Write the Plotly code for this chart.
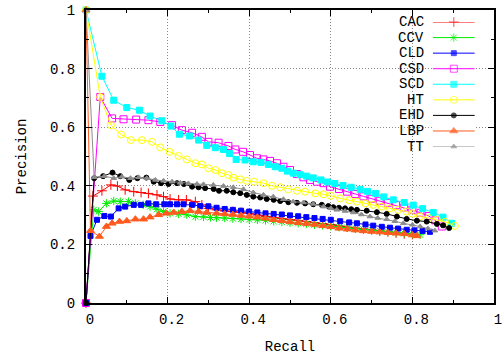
import plotly.graph_objects as go

# ---------------- data ----------------
names = ["CAC", "CCV", "CLD", "CSD", "SCD", "HT", "EHD", "LBP", "TT"]

cac_recall = [0, 0.017, 0.039, 0.061, 0.077, 0.096, 0.117, 0.135, 0.153, 0.174, 0.19, 0.206, 0.227, 0.246,
              0.268, 0.284, 0.3, 0.32, 0.34, 0.36, 0.38, 0.40, 0.42, 0.44, 0.46, 0.48, 0.50, 0.52, 0.54,
              0.56, 0.58, 0.60, 0.62, 0.64, 0.66, 0.68, 0.70, 0.72, 0.74, 0.76, 0.78, 0.80]
cac_precision = [0, 0.365, 0.383, 0.403, 0.399, 0.386, 0.38, 0.377, 0.374, 0.369, 0.363, 0.355, 0.352, 0.352,
                 0.346, 0.335, 0.323, 0.318, 0.314, 0.312, 0.309, 0.305, 0.30, 0.295, 0.291, 0.288, 0.285,
                 0.282, 0.278, 0.274, 0.271, 0.268, 0.263, 0.259, 0.256, 0.253, 0.25, 0.246, 0.243, 0.239,
                 0.236, 0.234]

ccv_recall = [0, 0.019, 0.031, 0.05, 0.068, 0.084, 0.104, 0.121, 0.14, 0.157, 0.174, 0.19, 0.206, 0.227,
              0.247, 0.268, 0.288, 0.305, 0.32, 0.34, 0.36, 0.38, 0.40, 0.42, 0.44, 0.46, 0.48, 0.50, 0.52,
              0.54, 0.56, 0.58, 0.60, 0.62, 0.64, 0.66, 0.68, 0.70, 0.72, 0.74, 0.76, 0.78, 0.80, 0.819]
ccv_precision = [0, 0.318, 0.312, 0.34, 0.348, 0.346, 0.346, 0.34, 0.335, 0.329, 0.32, 0.312, 0.306, 0.304,
                 0.301, 0.295, 0.294, 0.292, 0.291, 0.29, 0.288, 0.287, 0.285, 0.284, 0.282, 0.279, 0.277,
                 0.274, 0.272, 0.27, 0.267, 0.265, 0.262, 0.259, 0.257, 0.254, 0.251, 0.249, 0.246, 0.244,
                 0.241, 0.238, 0.235, 0.233]

cld_recall = [0, 0.011, 0.027, 0.045, 0.061, 0.08, 0.096, 0.117, 0.135, 0.153, 0.172, 0.192, 0.206, 0.223,
              0.239, 0.26, 0.28, 0.30, 0.32, 0.34, 0.36, 0.38, 0.40, 0.42, 0.44, 0.46, 0.48, 0.50, 0.52,
              0.54, 0.56, 0.58, 0.60, 0.623, 0.645, 0.664, 0.685, 0.704, 0.725, 0.745, 0.765, 0.786,
              0.805, 0.825, 0.843]
cld_precision = [0, 0.229, 0.284, 0.297, 0.295, 0.323, 0.329, 0.335, 0.335, 0.34, 0.337, 0.337, 0.337, 0.337,
                 0.337, 0.335, 0.331, 0.33, 0.325, 0.321, 0.318, 0.315, 0.312, 0.309, 0.306, 0.304, 0.302,
                 0.299, 0.296, 0.293, 0.29, 0.287, 0.284, 0.279, 0.275, 0.272, 0.268, 0.264, 0.26, 0.257,
                 0.254, 0.25, 0.248, 0.246, 0.243]

csd_recall = [0, 0.035, 0.064, 0.092, 0.123, 0.153, 0.182, 0.211, 0.235, 0.26, 0.284, 0.30, 0.325, 0.349,
              0.366, 0.385, 0.402, 0.419, 0.435, 0.451, 0.468, 0.484, 0.50, 0.517, 0.533, 0.549, 0.566,
              0.582, 0.598, 0.62, 0.64, 0.66, 0.68, 0.70, 0.72, 0.74, 0.76, 0.78, 0.80, 0.82, 0.84,
              0.856, 0.872]
csd_precision = [0, 0.703, 0.63, 0.627, 0.626, 0.624, 0.618, 0.607, 0.59, 0.581, 0.567, 0.55, 0.547, 0.536,
                 0.524, 0.516, 0.505, 0.494, 0.49, 0.485, 0.477, 0.465, 0.454, 0.44, 0.429, 0.42, 0.414,
                 0.409, 0.397, 0.389, 0.38, 0.372, 0.364, 0.356, 0.349, 0.342, 0.334, 0.326, 0.318, 0.308,
                 0.297, 0.282, 0.261]

scd_recall = [0, 0.039, 0.068, 0.10, 0.131, 0.157, 0.186, 0.208, 0.229, 0.254, 0.276, 0.296, 0.317, 0.337,
              0.352, 0.368, 0.39, 0.41, 0.429, 0.447, 0.464, 0.48, 0.494, 0.508, 0.525, 0.541, 0.557,
              0.576, 0.592, 0.61, 0.63, 0.65, 0.672, 0.69, 0.71, 0.73, 0.753, 0.78, 0.802, 0.825, 0.851,
              0.875, 0.896]
scd_precision = [1, 0.774, 0.692, 0.667, 0.658, 0.638, 0.622, 0.604, 0.576, 0.57, 0.556, 0.538, 0.53, 0.524,
                 0.51, 0.49, 0.488, 0.482, 0.48, 0.473, 0.465, 0.46, 0.45, 0.443, 0.438, 0.433, 0.427, 0.42,
                 0.413, 0.408, 0.401, 0.395, 0.388, 0.381, 0.374, 0.362, 0.352, 0.343, 0.334, 0.322, 0.309,
                 0.293, 0.272]

ht_recall = [0, 0.035, 0.061, 0.086, 0.11, 0.137, 0.162, 0.182, 0.205, 0.227, 0.247, 0.268, 0.284, 0.30,
             0.317, 0.333, 0.349, 0.361, 0.378, 0.394, 0.412, 0.435, 0.456, 0.476, 0.496, 0.517, 0.537,
             0.562, 0.582, 0.60, 0.623, 0.645, 0.664, 0.685, 0.704, 0.725, 0.745, 0.765, 0.786, 0.80,
             0.819, 0.84, 0.86, 0.88, 0.904]
ht_precision = [1, 0.703, 0.607, 0.575, 0.556, 0.556, 0.55, 0.531, 0.516, 0.502, 0.49, 0.477, 0.473, 0.46,
                0.454, 0.443, 0.437, 0.428, 0.422, 0.417, 0.414, 0.409, 0.40, 0.395, 0.388, 0.383, 0.38,
                0.374, 0.371, 0.366, 0.357, 0.351, 0.346, 0.34, 0.335, 0.329, 0.323, 0.318, 0.312, 0.305,
                0.295, 0.29, 0.284, 0.277, 0.263]

ehd_recall = [0, 0.02, 0.042, 0.065, 0.084, 0.106, 0.126, 0.148, 0.166, 0.184, 0.202, 0.223, 0.24, 0.26,
              0.276, 0.292, 0.313, 0.326, 0.345, 0.361, 0.378, 0.394, 0.41, 0.427, 0.443, 0.46, 0.476,
              0.496, 0.517, 0.537, 0.557, 0.578, 0.594, 0.606, 0.62, 0.635, 0.65, 0.664, 0.688, 0.713,
              0.737, 0.762, 0.786, 0.811, 0.835, 0.86, 0.875, 0.89]
ehd_precision = [0, 0.426, 0.433, 0.445, 0.433, 0.42, 0.426, 0.428, 0.414, 0.409, 0.406, 0.409, 0.406,
                 0.397, 0.395, 0.392, 0.389, 0.383, 0.383, 0.378, 0.375, 0.369, 0.363, 0.36, 0.355, 0.352,
                 0.348, 0.344, 0.342, 0.34, 0.337, 0.335, 0.331, 0.327, 0.325, 0.323, 0.32, 0.318, 0.315,
                 0.31, 0.304, 0.295, 0.287, 0.281, 0.278, 0.27, 0.265, 0.256]

lbp_recall = [0, 0.011, 0.033, 0.05, 0.064, 0.082, 0.10, 0.121, 0.141, 0.157, 0.178, 0.197, 0.215, 0.235,
              0.255, 0.276, 0.296, 0.32, 0.34, 0.36, 0.38, 0.40, 0.42, 0.44, 0.46, 0.48, 0.50, 0.52, 0.54,
              0.56, 0.58, 0.60, 0.62, 0.64, 0.66, 0.68, 0.70, 0.72, 0.74, 0.76, 0.78, 0.80, 0.811]
lbp_precision = [1, 0.247, 0.227, 0.261, 0.272, 0.278, 0.28, 0.286, 0.286, 0.293, 0.301, 0.306, 0.309,
                 0.312, 0.315, 0.312, 0.309, 0.306, 0.304, 0.302, 0.299, 0.296, 0.293, 0.289, 0.284, 0.281,
                 0.277, 0.274, 0.271, 0.268, 0.264, 0.26, 0.255, 0.252, 0.249, 0.246, 0.244, 0.242, 0.24,
                 0.238, 0.236, 0.232, 0.229]

tt_recall = [0, 0.02, 0.045, 0.068, 0.088, 0.109, 0.129, 0.149, 0.17, 0.19, 0.211, 0.231, 0.251, 0.272,
             0.288, 0.312, 0.337, 0.361, 0.386, 0.41, 0.435, 0.459, 0.484, 0.508, 0.533, 0.557, 0.582, 0.60,
             0.615, 0.635, 0.655, 0.675, 0.696, 0.715, 0.737, 0.757, 0.778, 0.80, 0.819, 0.838, 0.855]
tt_precision = [1, 0.429, 0.433, 0.426, 0.431, 0.426, 0.429, 0.426, 0.42, 0.417, 0.414, 0.41, 0.408, 0.406,
                0.405, 0.403, 0.399, 0.395, 0.388, 0.377, 0.369, 0.363, 0.354, 0.346, 0.343, 0.338, 0.329,
                0.323, 0.318, 0.314, 0.309, 0.302, 0.295, 0.29, 0.286, 0.279, 0.272, 0.267, 0.261, 0.254,
                0.247]

x_ticks = [0, 0.2, 0.4, 0.6, 0.8, 1]
y_ticks = [0, 0.2, 0.4, 0.6, 0.8, 1]
x_title = "Recall"
y_title = "Precision"

# ---------------- styles ----------------
recalls = [cac_recall, ccv_recall, cld_recall, csd_recall, scd_recall, ht_recall, ehd_recall, lbp_recall, tt_recall]
precisions = [cac_precision, ccv_precision, cld_precision, csd_precision, scd_precision, ht_precision,
              ehd_precision, lbp_precision, tt_precision]
colors = ["#ff0000", "#00ee00", "#0000ff", "#ff00ff", "#00ffff", "#ffff00", "#000000", "#ff5a1e", "#8c8c8c"]
symbols = ["cross-thin", "asterisk", "square", "square-open", "square", "circle-open", "circle",
           "triangle-up", "triangle-up"]
sizes = [7, 7, 5, 7, 6, 7, 5, 7, 5]

FONT = "Liberation Mono, Courier New, monospace"

fig = go.Figure()
for name, rx, py, col, sym, sz in zip(names, recalls, precisions, colors, symbols, sizes):
    fig.add_trace(go.Scatter(
        x=rx, y=py, name=name, mode="lines+markers",
        line=dict(color=col, width=1),
        marker=dict(symbol=sym, size=sz, color=col, line=dict(color=col, width=1)),
        cliponaxis=False, showlegend=False,
    ))

# gnuplot-style key: label on the left, line sample with marker on the right
for i, (name, col, sym, sz) in enumerate(zip(names, colors, symbols, sizes)):
    fig.add_trace(go.Scatter(
        x=[0, 0.5, 1], y=[i, i, i], mode="lines+markers",
        line=dict(color=col, width=1),
        marker=dict(symbol=sym, size=[0, sz, 0], color=col, line=dict(color=col, width=1)),
        xaxis="x2", yaxis="y2", showlegend=False, cliponaxis=False, hoverinfo="skip",
    ))
    fig.add_annotation(x=0, y=i, xref="x2", yref="y2", text=name, showarrow=False,
                       xanchor="right", yanchor="middle", xshift=-7,
                       font=dict(family=FONT, size=14, color="#000000"))

axis_common = dict(
    showline=True, linecolor="black", linewidth=2, mirror="ticks",
    ticks="inside", ticklen=6, tickwidth=1, tickcolor="black",
    showgrid=True, gridcolor="#888888", gridwidth=1, griddash="1px,2px",
    zeroline=False, automargin=False, ticklabeloverflow="allow",
    tickfont=dict(family=FONT, size=14, color="#000000"),
    minor=dict(dtick=0.1, ticks="inside", ticklen=3, tickcolor="black", showgrid=False),
)

fig.update_layout(
    width=502, height=356,
    margin=dict(l=86, r=8, t=10, b=53),
    paper_bgcolor="white", plot_bgcolor="white",
    font=dict(family=FONT, size=14, color="#000000"),
    xaxis=dict(range=[0, 1], tickvals=x_ticks, ticktext=[f"{v:g}" for v in x_ticks],
               ticklabelshift=4, ticklabelstandoff=2,
               title=dict(text=x_title, font=dict(family=FONT, size=14), standoff=14),
               **axis_common),
    yaxis=dict(range=[0, 1], tickvals=y_ticks, ticktext=[f"{v:g}" for v in y_ticks],
               ticklabelstandoff=6,
               title=dict(text=y_title, font=dict(family=FONT, size=14), standoff=20),
               **axis_common),
    xaxis2=dict(domain=[0.85, 0.953], range=[0, 1], visible=False, anchor="y2", fixedrange=True),
    yaxis2=dict(domain=[0.534, 0.959], range=[len(names) - 1, 0], visible=False, anchor="x2",
                fixedrange=True),
)

# drop the browser's default 8px body margin so the figure fills the window exactly
fig.write_html("out.html", config={"displayModeBar": False},
               post_script="document.body.style.margin='0';")
